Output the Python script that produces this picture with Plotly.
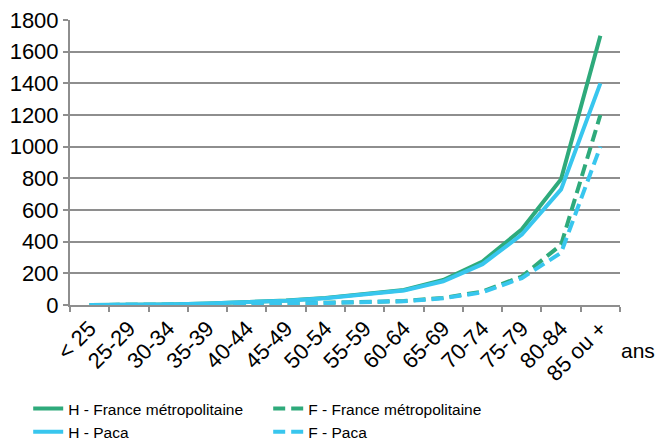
import plotly.graph_objects as go

# Age groups (x axis categories)
age_groups = ["< 25", "25-29", "30-34", "35-39", "40-44", "45-49", "50-54",
              "55-59", "60-64", "65-69", "70-74", "75-79", "80-84", "85 ou +"]

# Rates per age group
h_france = [0, 1, 3, 10, 18, 28, 45, 68, 95, 158, 275, 478, 795, 1700]
f_france = [0, 0, 1, 3, 5, 8, 12, 18, 25, 45, 85, 180, 380, 1200]
h_paca = [0, 1, 3, 10, 17, 27, 43, 66, 92, 150, 258, 445, 730, 1400]
f_paca = [0, 0, 1, 3, 5, 8, 12, 18, 24, 42, 80, 170, 330, 1000]

y_ticks = [0, 200, 400, 600, 800, 1000, 1200, 1400, 1600, 1800]

GREEN = "#2EAA7B"
BLUE = "#38C6EE"
GRID = "#8E8E8E"
FONT = "Arial, Liberation Sans, sans-serif"

fig = go.Figure()
series = [
    ("H - France métropolitaine", h_france, GREEN, "solid"),
    ("F - France métropolitaine", f_france, GREEN, "12px,6px"),
    ("H - Paca", h_paca, BLUE, "solid"),
    ("F - Paca", f_paca, BLUE, "12px,6px"),
]
for name, vals, color, dash in series:
    fig.add_trace(go.Scatter(
        x=age_groups, y=vals, name=name, mode="lines",
        line=dict(color=color, width=4, dash=dash),
    ))

fig.update_layout(
    width=659, height=443,
    margin=dict(l=70, r=39, t=20, b=138, autoexpand=False),
    paper_bgcolor="white", plot_bgcolor="white",
    font=dict(family=FONT, color="black", size=22),
    showlegend=True,
    legend=dict(
        orientation="h", x=-0.076, xanchor="left", y=-0.305, yanchor="top",
        font=dict(size=15.5), entrywidth=195, entrywidthmode="pixels",
        itemwidth=30, tracegroupgap=0, bgcolor="rgba(0,0,0,0)",
    ),
    xaxis=dict(
        type="category", tickson="boundaries", tickangle=-45,
        showline=True, linecolor=GRID, linewidth=2,
        ticks="outside", ticklen=5, tickcolor=GRID, tickwidth=2,
        showgrid=False, tickfont=dict(size=22), automargin=False,
        range=[-0.5, len(age_groups) - 0.5],
    ),
    yaxis=dict(
        range=[0, 1800], tickvals=y_ticks,
        showline=True, linecolor=GRID, linewidth=2,
        ticks="outside", ticklen=5, tickcolor=GRID, tickwidth=2,
        showgrid=True, gridcolor=GRID, gridwidth=2,
        zeroline=False, tickfont=dict(size=22), automargin=False,
    ),
)

fig.add_annotation(
    text="ans", xref="paper", yref="paper", x=0.998, y=-0.158,
    xanchor="left", yanchor="middle", showarrow=False,
    font=dict(size=21),
)

fig.write_html("out.html")
